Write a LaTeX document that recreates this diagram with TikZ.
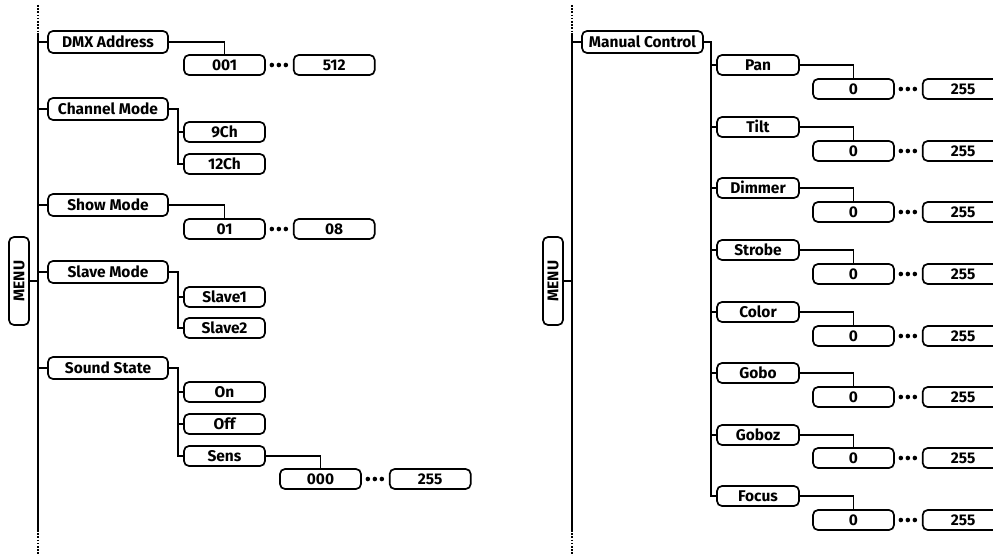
\documentclass[tikz,border=0pt]{standalone}
\usepackage{fontspec}
\setsansfont{Fira Sans}
\usetikzlibrary{positioning, calc}
\tikzset{
    menubox/.style={
        draw, fill=white, rounded corners=5pt,
        line width=1.7pt, inner sep=0pt,
        minimum width=88pt, minimum height=20pt,
        rotate=90,
        text height=10.5pt, text depth=0pt,
        font=\sffamily\bfseries\fontsize{15.5pt}{15.5pt}\selectfont,
    },
    topitem/.style={
        draw, fill=white, rounded corners=5pt,
        line width=1.7pt, inner sep=0pt,
        minimum width=#1, minimum height=22pt,
        text height=10.7pt, text depth=0pt,
        font=\sffamily\bfseries\fontsize{15.5pt}{15.5pt}\selectfont,
    },
    topitem/.default=120pt,
    subitem/.style={
        topitem=82pt, minimum height=20pt,
    },
    valbox/.style={
        topitem=81pt, minimum height=20pt,
    },
    spine/.style={line width=1.7pt},
    spinedots/.style={line width=1.7pt, dash pattern=on 1.6pt off 1.6pt},
    branch/.style={line width=1.7pt},
}

\begin{document}
\begin{tikzpicture}[x=1pt, y=-1pt]

\useasboundingbox (0,0) rectangle (993,556);
\clip (0,0) rectangle (993,556);

% =============================================
% Left menu: spine + MENU
% =============================================
\coordinate (spineLtop) at (38,5);
\coordinate (spineL) at (38,33);
\coordinate (spineLend) at (38,530);
\coordinate (spineLbot) at (38,556);

\draw[spinedots] (spineLtop) -- (spineL);
\draw[spine] (spineL) -- (spineLend);
\draw[spinedots] (spineLend) -- (spineLbot);

\node[menubox] (menuL) at (19,281) {MENU};
\draw[branch] (menuL) -- (menuL -| spineL);

% =============================================
% Left menu: first level
% =============================================
\node[topitem] (dmx) at (108,42) {DMX Address};
\node[topitem] (chmode) at (108,109) {Channel Mode};
\node[topitem] (showmode) at (108,205) {Show Mode};
\node[topitem] (slavemode) at (108,272) {Slave Mode};
\node[topitem] (sound) at (108,368) {Sound State};

\draw[branch] (dmx.west) -- (dmx.west -| spineL);
\draw[branch] (chmode.west) -- (chmode.west -| spineL);
\draw[branch] (showmode.west) -- (showmode.west -| spineL);
\draw[branch] (slavemode.west) -- (slavemode.west -| spineL);
\draw[branch] (sound.west) -- (sound.west -| spineL);

% =============================================
% Left menu: values
% =============================================
\node[valbox] (dmx001) at (224.5,65) {001};
\node[valbox, right=27pt of dmx001] (dmx512) {512};

\node[valbox] (ch9) at (224.5,132) {9Ch};
\node[valbox] (ch12) at (224.5,164) {12Ch};

\node[valbox] (show01) at (224.5,229) {01};
\node[valbox, right=27pt of show01] (show08) {08};

\node[valbox] (slave1) at (224.5,297) {Slave1};
\node[valbox] (slave2) at (224.5,328) {Slave2};

\node[valbox] (on) at (224.5,392) {On};
\node[valbox] (off) at (224.5,424) {Off};
\node[valbox] (sens) at (224.5,456) {Sens};

\node[valbox] (sens000) at (320.5,479) {000};
\node[valbox, right=27pt of sens000] (sens255) {255};

% =============================================
% Left menu: branches
% =============================================
\draw[branch] (dmx.east) -| (dmx001.north);
\fill (dmx001.east) ++(6,0) circle (2.3) ++(7,0) circle (2.3) ++(7,0) circle (2.3);

\draw[branch] (chmode.east) -- ++(9,0) coordinate (chbus) |- (ch12.west);
\draw[branch] (ch9.west) -- (ch9.west -| chbus);

\draw[branch] (showmode.east) -| (show01.north);
\fill (show01.east) ++(6,0) circle (2.3) ++(7,0) circle (2.3) ++(7,0) circle (2.3);

\draw[branch] (slavemode.east) -- ++(9,0) coordinate (slavebus) |- (slave2.west);
\draw[branch] (slave1.west) -- (slave1.west -| slavebus);

\draw[branch] (sound.east) -- ++(9,0) coordinate (soundbus) |- (sens.west);
\draw[branch] (on.west) -- (on.west -| soundbus);
\draw[branch] (off.west) -- (off.west -| soundbus);

\draw[branch] (sens.east) -| (sens000.north);
\fill (sens000.east) ++(6,0) circle (2.3) ++(7,0) circle (2.3) ++(7,0) circle (2.3);

% =============================================
% Right menu: spine + MENU
% =============================================
\coordinate (spineRtop) at (572,5);
\coordinate (spineR) at (572,33);
\coordinate (spineRend) at (572,530);
\coordinate (spineRbot) at (572,556);

\draw[spinedots] (spineRtop) -- (spineR);
\draw[spine] (spineR) -- (spineRend);
\draw[spinedots] (spineRend) -- (spineRbot);

\node[menubox] (menuR) at (553,281) {MENU};
\draw[branch] (menuR) -- (menuR -| spineR);

% =============================================
% Right menu: Manual Control
% =============================================
\node[topitem=121pt] (manual) at (642.5,42) {Manual Control};
\draw[branch] (manual.west) -- (manual.west -| spineR);

\node[subitem] (pan) at (758,65) {Pan};
\node[subitem] (tilt) at (758,127) {Tilt};
\node[subitem] (dimmer) at (758,188) {Dimmer};
\node[subitem] (strobe) at (758,250) {Strobe};
\node[subitem] (color) at (758,312) {Color};
\node[subitem] (gobo) at (758,373) {Gobo};
\node[subitem] (goboz) at (758,435) {Goboz};
\node[subitem] (focus) at (758,496) {Focus};

\draw[branch] (manual.east) -- ++(7,0) coordinate (manbus) |- (focus.west);
\draw[branch] (pan.west) -- (pan.west -| manbus);
\draw[branch] (tilt.west) -- (tilt.west -| manbus);
\draw[branch] (dimmer.west) -- (dimmer.west -| manbus);
\draw[branch] (strobe.west) -- (strobe.west -| manbus);
\draw[branch] (color.west) -- (color.west -| manbus);
\draw[branch] (gobo.west) -- (gobo.west -| manbus);
\draw[branch] (goboz.west) -- (goboz.west -| manbus);

% =============================================
% Right menu: 0 ... 255 ranges
% =============================================
\node[valbox] (panmin) at (853.5,89) {0};
\node[valbox, right=27pt of panmin] (panmax) {255};
\node[valbox] (tiltmin) at (853.5,151) {0};
\node[valbox, right=27pt of tiltmin] (tiltmax) {255};
\node[valbox] (dimmermin) at (853.5,212) {0};
\node[valbox, right=27pt of dimmermin] (dimmermax) {255};
\node[valbox] (strobemin) at (853.5,274) {0};
\node[valbox, right=27pt of strobemin] (strobemax) {255};
\node[valbox] (colormin) at (853.5,336) {0};
\node[valbox, right=27pt of colormin] (colormax) {255};
\node[valbox] (gobomin) at (853.5,397) {0};
\node[valbox, right=27pt of gobomin] (gobomax) {255};
\node[valbox] (gobozmin) at (853.5,458) {0};
\node[valbox, right=27pt of gobozmin] (gobozmax) {255};
\node[valbox] (focusmin) at (853.5,520) {0};
\node[valbox, right=27pt of focusmin] (focusmax) {255};

\draw[branch] (pan.east) -| (panmin.north);
\draw[branch] (tilt.east) -| (tiltmin.north);
\draw[branch] (dimmer.east) -| (dimmermin.north);
\draw[branch] (strobe.east) -| (strobemin.north);
\draw[branch] (color.east) -| (colormin.north);
\draw[branch] (gobo.east) -| (gobomin.north);
\draw[branch] (goboz.east) -| (gobozmin.north);
\draw[branch] (focus.east) -| (focusmin.north);

\fill (panmin.east) ++(6,0) circle (2.3) ++(7,0) circle (2.3) ++(7,0) circle (2.3);
\fill (tiltmin.east) ++(6,0) circle (2.3) ++(7,0) circle (2.3) ++(7,0) circle (2.3);
\fill (dimmermin.east) ++(6,0) circle (2.3) ++(7,0) circle (2.3) ++(7,0) circle (2.3);
\fill (strobemin.east) ++(6,0) circle (2.3) ++(7,0) circle (2.3) ++(7,0) circle (2.3);
\fill (colormin.east) ++(6,0) circle (2.3) ++(7,0) circle (2.3) ++(7,0) circle (2.3);
\fill (gobomin.east) ++(6,0) circle (2.3) ++(7,0) circle (2.3) ++(7,0) circle (2.3);
\fill (gobozmin.east) ++(6,0) circle (2.3) ++(7,0) circle (2.3) ++(7,0) circle (2.3);
\fill (focusmin.east) ++(6,0) circle (2.3) ++(7,0) circle (2.3) ++(7,0) circle (2.3);

\end{tikzpicture}
\end{document}
